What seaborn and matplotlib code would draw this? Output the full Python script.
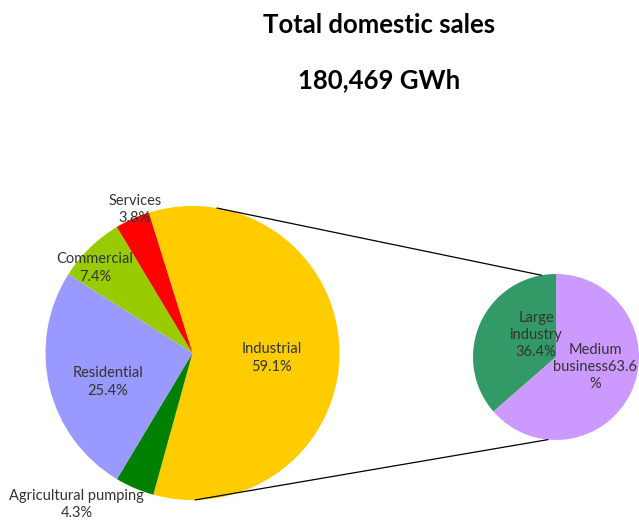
import numpy as np
import matplotlib
matplotlib.use("Agg")
import matplotlib.pyplot as plt
import seaborn as sns

# Sales breakdown (share of total domestic sales, %)
sectors = ["Industrial", "Agricultural pumping", "Residential", "Commercial", "Services"]
sector_share = [59.1, 4.3, 25.4, 7.4, 3.8]
sector_colors = ["#FFCC00", "#008000", "#9999FF", "#99CC00", "#FF0000"]

# Split of the industrial slice
industry_parts = ["Large industry", "Medium business"]
industry_share = [36.4, 63.6]
industry_colors = ["#339966", "#CC99FF"]

title_line1 = "Total domestic sales"
title_line2 = "180,469 GWh"

sns.set_theme(style="white")
plt.rcParams["font.family"] = ["Lato", "DejaVu Sans"]

W, H = 639, 523
fig = plt.figure(figsize=(W / 100, H / 100), dpi=100)
ax = fig.add_axes([0, 0, 1, 1])

text_color = "#333333"
label_size = 10.5
spacing = 1.3

# Main pie
c_main = (192.5, H - 353)
r_main = 147
start = 107.3
wedges, _ = ax.pie(sector_share, colors=sector_colors, startangle=start,
                   counterclock=False, center=c_main, radius=r_main,
                   wedgeprops=dict(linewidth=0))

# Secondary pie
c_sub = (556, H - 357)
r_sub = 83
sub_wedges, _ = ax.pie(industry_share, colors=industry_colors, startangle=90,
                       counterclock=True, center=c_sub, radius=r_sub,
                       wedgeprops=dict(linewidth=0))

# pie() resets the view, so fix the pixel-sized canvas afterwards
ax.set_xlim(0, W)
ax.set_ylim(0, H)
ax.set_aspect("equal")
ax.axis("off")

# label placement: (radial distance as fraction of radius, angle tweak in degrees)
label_pos = {
    "Industrial": (0.54, -4.5),
    "Agricultural pumping": (1.30, -14.2),
    "Residential": (0.61, 5.6),
    "Commercial": (0.88, 4.6),
    "Services": (1.05, -2.2),
}
for w, name, val in zip(wedges, sectors, sector_share):
    mid = np.deg2rad((w.theta1 + w.theta2) / 2 + label_pos[name][1])
    d = label_pos[name][0] * r_main
    x = c_main[0] + d * np.cos(mid)
    y = c_main[1] + d * np.sin(mid)
    ax.text(x, y, f"{name}\n{val:.1f}%", ha="center", va="center",
            fontsize=label_size, color=text_color, linespacing=spacing)

sub_labels = [
    (f"Large\nindustry\n{industry_share[0]:.1f}%", (-20, 22)),
    (f"Medium\nbusiness{industry_share[1]:.1f}\n%", (39, -10)),
]
for (txt, (dx, dy)) in sub_labels:
    ax.text(c_sub[0] + dx, c_sub[1] + dy, txt, ha="center", va="center",
            fontsize=label_size, color=text_color, linespacing=spacing)

# Connector lines between the pies
def on_circle(c, r, ang):
    a = np.deg2rad(ang)
    return c[0] + r * np.cos(a), c[1] + r * np.sin(a)

for a_main, a_sub in [(80.4, 100.0), (-89.0, -95.5)]:
    p1 = on_circle(c_main, r_main, a_main)
    p2 = on_circle(c_sub, r_sub, a_sub)
    ax.plot([p1[0], p2[0]], [p1[1], p2[1]], color="black", linewidth=0.9)

# Titles
ax.text(379, H - 25, title_line1, ha="center", va="center",
        fontsize=18.5, fontweight="bold", color="black")
ax.text(379, H - 80, title_line2, ha="center", va="center",
        fontsize=18.5, fontweight="bold", color="black")

fig.savefig("out.png", dpi=100)
